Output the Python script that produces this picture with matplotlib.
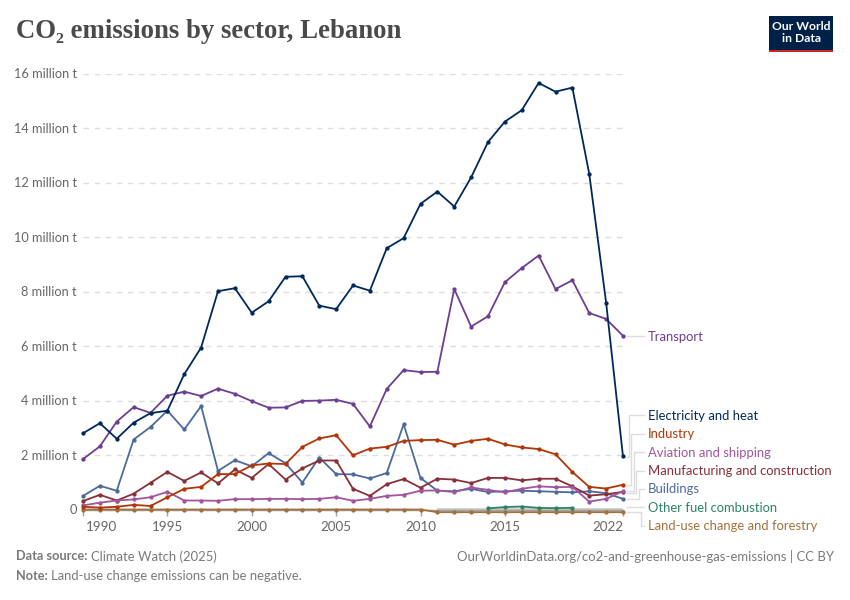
import matplotlib
matplotlib.use('Agg')
import matplotlib.pyplot as plt
from matplotlib.patches import Rectangle
from matplotlib.transforms import ScaledTranslation

plt.rcParams['font.family'] = ['Lato', 'DejaVu Sans']

years = list(range(1990, 2023))
electricity = [2.8, 3.17, 2.6, 3.19, 3.54, 3.63, 4.97, 5.95, 8.02, 8.13, 7.23, 7.65, 8.55, 8.57, 7.49, 7.36, 8.23,
               8.04, 9.6, 9.97, 11.23, 11.68, 11.13, 12.2, 13.5, 14.25, 14.67, 15.67, 15.35, 15.5, 12.33, 7.6, 1.95]
transport = [1.85, 2.32, 3.23, 3.76, 3.55, 4.18, 4.33, 4.17, 4.44, 4.25, 3.98, 3.74, 3.75, 3.99, 4.0, 4.03, 3.88,
             3.05, 4.43, 5.12, 5.05, 5.06, 8.1, 6.72, 7.1, 8.35, 8.87, 9.33, 8.1, 8.42, 7.22, 7.0, 6.38]
industry = [0.1, 0.07, 0.1, 0.17, 0.13, 0.45, 0.76, 0.83, 1.3, 1.3, 1.62, 1.69, 1.67, 2.3, 2.61, 2.73, 1.99,
            2.24, 2.3, 2.52, 2.55, 2.56, 2.38, 2.52, 2.6, 2.39, 2.28, 2.22, 2.03, 1.38, 0.83, 0.77, 0.91]
aviation = [0.15, 0.25, 0.33, 0.37, 0.45, 0.65, 0.33, 0.33, 0.32, 0.38, 0.38, 0.39, 0.39, 0.38, 0.39, 0.45, 0.32,
            0.39, 0.5, 0.54, 0.69, 0.7, 0.64, 0.81, 0.72, 0.63, 0.76, 0.85, 0.82, 0.83, 0.29, 0.39, 0.67]
manufacturing = [0.31, 0.54, 0.33, 0.58, 0.98, 1.38, 1.05, 1.36, 0.96, 1.47, 1.16, 1.67, 1.1, 1.51, 1.8, 1.8, 0.76,
                 0.5, 0.93, 1.12, 0.8, 1.13, 1.1, 0.97, 1.16, 1.16, 1.07, 1.13, 1.13, 0.85, 0.51, 0.56, 0.65]
buildings = [0.5, 0.87, 0.69, 2.57, 3.03, 3.63, 2.94, 3.8, 1.42, 1.81, 1.59, 2.07, 1.7, 0.99, 1.91, 1.3, 1.29,
             1.14, 1.34, 3.13, 1.16, 0.69, 0.67, 0.76, 0.64, 0.67, 0.69, 0.67, 0.65, 0.63, 0.67, 0.6, 0.39]
other_years = [2014, 2015, 2016, 2017, 2018, 2019]
other_fuel = [0.04, 0.09, 0.11, 0.06, 0.05, 0.06]
land_use = [0.0] * 21 + [-0.1] * 12
band_years = [2011, 2022]
band_values = [-0.03, -0.03]

yticks = [0, 2, 4, 6, 8, 10, 12, 14, 16]
ytick_labels = ['0', '2 million t', '4 million t', '6 million t', '8 million t', '10 million t',
                '12 million t', '14 million t', '16 million t']
xticks = [1990, 1995, 2000, 2005, 2010, 2015, 2022]

fig = plt.figure(figsize=(8.5, 6), dpi=100)

# axes placed in pixels: 1990 at x=83, 2022 at x=623, 0 at y=509.5, 16M at y=74
per_unit = (509.5 - 74) / 16
bottom_px = 515
ax = fig.add_axes([83 / 850, (600 - bottom_px) / 600, 540 / 850, (bottom_px - 74) / 600])
ax.set_xlim(1990, 2022)
ax.set_ylim(-(bottom_px - 509.5) / per_unit, 16)

ax.plot(band_years, band_values, color='#c8c8c8', lw=2.6, zorder=2, solid_capstyle='butt')

series = [
    (land_use, years, '#a2703c'),
    (other_fuel, other_years, '#2c8465'),
    (buildings, years, '#4c6a9c'),
    (manufacturing, years, '#883039'),
    (aviation, years, '#a2559c'),
    (industry, years, '#b13507'),
    (transport, years, '#6d3e91'),
    (electricity, years, '#00295b'),
]
for z, (vals, xs, col) in enumerate(series):
    ax.plot(xs, vals, color=col, lw=1.3, marker='o', ms=3.1, mew=0, clip_on=False, zorder=3 + z)

for s in ['top', 'left', 'right']:
    ax.spines[s].set_visible(False)
ax.spines['bottom'].set_position(('data', 0))
ax.spines['bottom'].set_color('#a1a1a1')
ax.spines['bottom'].set_linewidth(1)

ax.set_yticks(yticks)
ax.set_yticklabels(ytick_labels)
ax.tick_params(axis='y', length=0, pad=4.5, labelsize=9.2, labelcolor='#666666')
for lab in ax.get_yticklabels():
    lab.set_transform(lab.get_transform() + ScaledTranslation(0, 0.4 / 72, fig.dpi_scale_trans))
ax.grid(True, axis='y', color='#dddddd', lw=1, ls=(0, (4, 4)))
ax.set_axisbelow(True)

ax.set_xticks(xticks)
ax.set_xticklabels(xticks)
ax.tick_params(axis='x', length=4, width=1, color='#a1a1a1', pad=4, labelsize=9.6, labelcolor='#666666')
labs = ax.get_xticklabels()
labs[0].set_ha('left')
labs[0].set_transform(labs[0].get_transform() + ScaledTranslation(2 / 72, 0, fig.dpi_scale_trans))
labs[-1].set_ha('right')

# full page overlay in pixel coordinates for everything outside the plot
pg = fig.add_axes([0, 0, 1, 1], zorder=10)
pg.set_xlim(0, 850)
pg.set_ylim(600, 0)
pg.axis('off')

pg.text(16, 31.5, 'CO₂ emissions by sector, Lebanon', family=['Liberation Serif', 'DejaVu Serif'],
        fontsize=19.3, fontweight='bold', color='#4a4a4a', va='center')

# logo
pg.add_patch(Rectangle((769.5, 16), 64, 36, fc='#002147', ec='none'))
pg.add_patch(Rectangle((769.5, 49.5), 64, 2.5, fc='#ce261e', ec='none'))
pg.text(801.5, 27, 'Our World', color='white', fontsize=8.7, fontweight='bold', ha='center', va='center')
pg.text(801.5, 38.5, 'in Data', color='white', fontsize=8.7, fontweight='bold', ha='center', va='center')

# end labels: name, colour, label y, start y of connector, x of elbow
end_labels = [
    ('Transport', '#6d3e91', 336, 336, None),
    ('Electricity and heat', '#00295b', 415, 456.5, 629.5),
    ('Industry', '#b13507', 433.5, 485, 631.5),
    ('Aviation and shipping', '#a2559c', 452, 490.5, 634),
    ('Manufacturing and construction', '#883039', 470.5, 492.5, 636.5),
    ('Buildings', '#4c6a9c', 488.5, 498.5, 639),
    ('Other fuel combustion', '#2c8465', 507, 507, None),
    ('Land-use change and forestry', '#a2703c', 525.5, 512, 641.5),
]
for name, col, ly, sy, ex in end_labels:
    if ex is None:
        pg.plot([627, 644], [sy, ly], color='#dddddd', lw=1)
    else:
        pg.plot([627, ex, ex, 644], [sy, sy, ly, ly], color='#dddddd', lw=1)
    pg.text(648, ly + 0.7, name, color=col, fontsize=9.4, va='center')

# footer
pg.text(16, 556.5, 'Data source:', color='#7a7a7a', fontsize=9.2, fontweight='bold', va='center')
pg.text(91, 556.5, 'Climate Watch (2025)', color='#7a7a7a', fontsize=9.35, va='center')
pg.text(16, 576.5, 'Note:', color='#7a7a7a', fontsize=9.2, fontweight='bold', va='center')
pg.text(51, 576.5, 'Land-use change emissions can be negative.', color='#7a7a7a', fontsize=9.4, va='center')
pg.text(834, 556.5, 'OurWorldinData.org/co2-and-greenhouse-gas-emissions | CC BY', color='#7a7a7a',
        fontsize=9.47, ha='right', va='center')

plt.savefig('out.png', dpi=100)
